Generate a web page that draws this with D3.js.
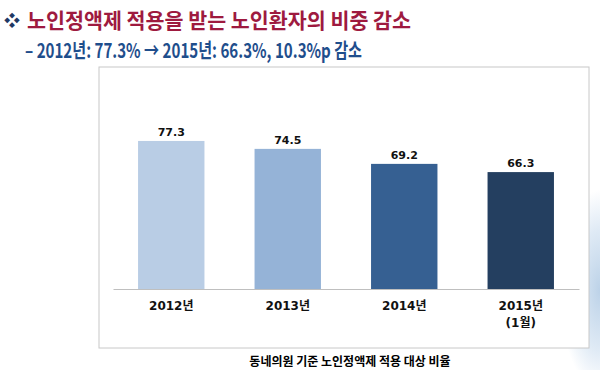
<!DOCTYPE html>
<html>
<head>
<meta charset="utf-8">
<script src="https://cdn.jsdelivr.net/npm/d3@7"></script>
<style>
  body { margin: 0; background: #fff; }
  svg { display: block; font-family: "Noto Sans CJK KR", "Noto Sans", sans-serif; }
</style>
</head>
<body>
<div id="chart"></div>
<script>
// values
var years = ["2012년", "2013년", "2014년", "2015년"];
var subLabels = ["", "", "", "(1월)"];
var shares = [77.3, 74.5, 69.2, 66.3];
var barColors = ["#b9cde5", "#95b3d7", "#366092", "#243f60"];

var width = 600, height = 370;

var svg = d3.select("#chart").append("svg")
    .attr("width", width)
    .attr("height", height);

// faint background picture at the right edge
var defs = svg.append("defs");
var grad = defs.append("radialGradient").attr("id", "bg");
grad.append("stop").attr("offset", "0%").attr("stop-color", "#bcd2e8");
grad.append("stop").attr("offset", "60%").attr("stop-color", "#dfeaf5");
grad.append("stop").attr("offset", "100%").attr("stop-color", "#ffffff");
svg.append("ellipse")
    .attr("cx", 600).attr("cy", 290)
    .attr("rx", 40).attr("ry", 100)
    .attr("fill", "url(#bg)");

// title
svg.append("text")
    .attr("x", 4).attr("y", 26)
    .attr("fill", "#1f3864")
    .style("font-size", "16px")
    .text("❖");
svg.append("text")
    .attr("x", 27).attr("y", 28)
    .attr("fill", "#9e1a3f")
    .style("font-size", "21px")
    .style("font-weight", "bold")
    .attr("textLength", 384)
    .attr("lengthAdjust", "spacingAndGlyphs")
    .text("노인정액제 적용을 받는 노인환자의 비중 감소");

svg.append("text")
    .attr("x", 25).attr("y", 58)
    .attr("fill", "#1f4e8c")
    .style("font-size", "20px")
    .style("font-weight", "bold")
    .attr("textLength", 337)
    .attr("lengthAdjust", "spacingAndGlyphs")
    .text("– 2012년: 77.3% → 2015년: 66.3%, 10.3%p 감소");

// chart box
svg.append("rect")
    .attr("x", 99).attr("y", 67)
    .attr("width", 490).attr("height", 281)
    .attr("fill", "#fff")
    .attr("stroke", "#c8c8c8");

var x = d3.scaleBand()
    .domain(years)
    .range([113, 579])
    .paddingInner(0.43)
    .paddingOuter(0.215);

var y = d3.scaleLinear()
    .domain([25, 90])
    .range([289, 105]);

var labelFont = "'DejaVu Sans', 'Noto Sans CJK KR', sans-serif";

var g = svg.append("g");

g.selectAll(".bar")
    .data(shares)
    .enter().append("rect")
    .attr("class", "bar")
    .attr("x", function(d, i) { return x(years[i]); })
    .attr("y", function(d) { return y(d); })
    .attr("width", x.bandwidth())
    .attr("height", function(d) { return y(25) - y(d); })
    .attr("fill", function(d, i) { return barColors[i]; });

g.selectAll(".val")
    .data(shares)
    .enter().append("text")
    .attr("class", "val")
    .attr("x", function(d, i) { return x(years[i]) + x.bandwidth() / 2; })
    .attr("y", function(d) { return y(d) - 5; })
    .attr("text-anchor", "middle")
    .attr("fill", "#111")
    .style("font-family", labelFont)
    .style("font-size", "11px")
    .style("font-weight", "bold")
    .text(function(d) { return d.toFixed(1); });

// x axis
var xAxis = d3.axisBottom(x).tickSize(0).tickPadding(12);
var ax = svg.append("g")
    .attr("transform", "translate(0," + y(25) + ")")
    .call(xAxis);
ax.select(".domain").attr("stroke", "#bfbfbf").attr("stroke-width", 1.2);
ax.selectAll(".tick text")
    .attr("fill", "#111")
    .style("font-size", "12px")
    .style("font-weight", "bold")
    .style("font-family", labelFont);
ax.selectAll(".tick").each(function(d, i) {
    if (subLabels[i]) {
        d3.select(this).append("text")
            .attr("y", 29)
            .attr("dy", "0.71em")
            .attr("text-anchor", "middle")
            .attr("fill", "#111")
            .style("font-size", "12px")
            .style("font-weight", "bold")
            .style("font-family", labelFont)
            .text(subLabels[i]);
    }
});

// caption
svg.append("text")
    .attr("x", 350).attr("y", 366)
    .attr("text-anchor", "middle")
    .attr("fill", "#000")
    .style("font-size", "12px")
    .style("font-weight", "bold")
    .text("동네의원 기준 노인정액제 적용 대상 비율");
</script>
</body>
</html>
